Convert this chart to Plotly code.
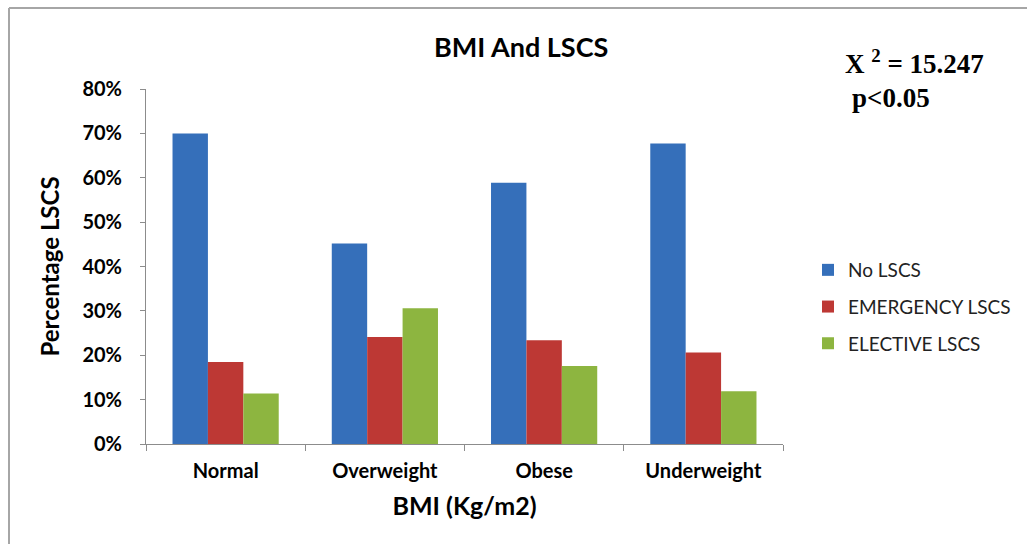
import plotly.graph_objects as go

# BMI categories and share of deliveries by LSCS type
categories = ["Normal", "Overweight", "Obese", "Underweight"]
no_lscs = [0.700, 0.452, 0.589, 0.677]
emergency_lscs = [0.185, 0.241, 0.234, 0.206]
elective_lscs = [0.114, 0.306, 0.176, 0.119]
y_ticks = [0, 0.1, 0.2, 0.3, 0.4, 0.5, 0.6, 0.7, 0.8]
y_tick_text = ["0%", "10%", "20%", "30%", "40%", "50%", "60%", "70%", "80%"]

W, H = 1027, 544
L, R, T, B = 146, 244, 89, 100
pw, ph = W - L - R, H - T - B


def px_x(x):
    return (x - L) / pw


def px_y(y):
    return (H - B - y) / ph


font_main = "Lato, 'Open Sans', sans-serif"
font_serif = "'Liberation Serif', 'Times New Roman', serif"

fig = go.Figure()
series = [
    ("No LSCS", no_lscs, "#356FBA"),
    ("EMERGENCY LSCS", emergency_lscs, "#BD3834"),
    ("ELECTIVE LSCS", elective_lscs, "#8DB540"),
]
for name, vals, col in series:
    fig.add_trace(go.Bar(
        x=categories, y=vals, name=name, legendgroup=name,
        marker=dict(color=col, line=dict(width=0)),
    ))

fig.update_layout(
    width=W, height=H,
    margin=dict(l=L, r=R, t=T, b=B, autoexpand=False),
    paper_bgcolor="white", plot_bgcolor="white",
    barmode="group", bargap=0.333, bargroupgap=0,
    font=dict(family=font_main, color="#000000"),
    showlegend=True,
    legend=dict(
        x=px_x(808), y=px_y(251), xanchor="left", yanchor="top",
        font=dict(size=19, color="#222222", family=font_main),
        itemwidth=30, tracegroupgap=9, bgcolor="rgba(0,0,0,0)",
    ),
    xaxis=dict(
        showline=True, linecolor="#8c8c8c", linewidth=1,
        ticks="outside", ticklen=6, tickcolor="#8c8c8c", tickson="boundaries",
        tickfont=dict(size=20, family=font_main, color="#000000", weight="bold"),
        ticklabelstandoff=9,
        showgrid=False, zeroline=False,
        title=dict(text="BMI (Kg/m2)", standoff=16,
                   font=dict(size=25, family=font_main, weight="bold")),
    ),
    yaxis=dict(
        range=[0, 0.8], tickvals=y_ticks, ticktext=y_tick_text,
        showline=True, linecolor="#8c8c8c", linewidth=1,
        ticks="outside", ticklen=5, tickcolor="#8c8c8c",
        tickfont=dict(size=20, family=font_main, color="#000000", weight="bold"),
        ticklabelstandoff=14,
        showgrid=False, zeroline=False,
        title=dict(text="Percentage LSCS", standoff=16,
                   font=dict(size=24, family=font_main, weight="bold")),
    ),
    annotations=[
        dict(text="<b>BMI And LSCS</b>", x=px_x(521), y=px_y(47),
             xref="paper", yref="paper", showarrow=False,
             xanchor="center", yanchor="middle",
             font=dict(size=27, family=font_main, color="#000000")),
        dict(text="<b>X <sup>2</sup> = 15.247</b>", x=px_x(843), y=px_y(62),
             xref="paper", yref="paper", showarrow=False,
             xanchor="left", yanchor="middle",
             font=dict(size=27, family=font_serif, color="#000000")),
        dict(text="<b>p<0.05</b>", x=px_x(850), y=px_y(98),
             xref="paper", yref="paper", showarrow=False,
             xanchor="left", yanchor="middle",
             font=dict(size=27, family=font_serif, color="#000000")),
    ],
    shapes=[
        dict(type="line", xref="paper", yref="paper",
             x0=px_x(9), x1=px_x(9), y0=px_y(8), y1=px_y(560),
             line=dict(color="#a6a6a6", width=2)),
        dict(type="line", xref="paper", yref="paper",
             x0=px_x(9), x1=px_x(1040), y0=px_y(8), y1=px_y(8),
             line=dict(color="#a6a6a6", width=2)),
    ],
)

fig.write_html("out.html")
